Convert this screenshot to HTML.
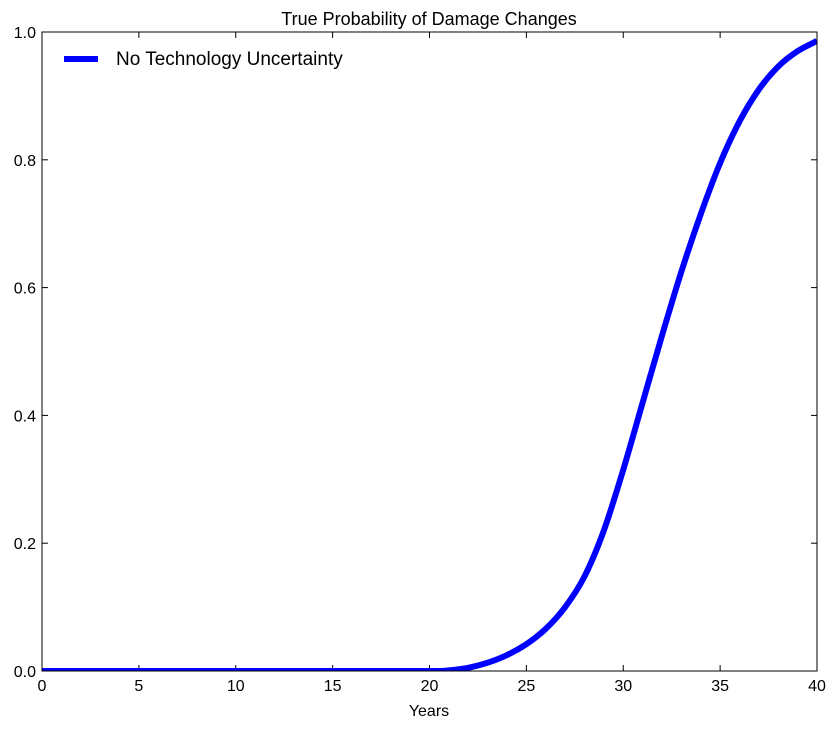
<!DOCTYPE html>
<html><head><meta charset="utf-8"><style>
body{margin:0;background:#fff;}
svg text{font-family:"Liberation Sans",sans-serif;}
</style></head><body>
<svg id="chart" width="837" height="730">
<text x="429" y="25" font-size="18" text-anchor="middle">True Probability of Damage Changes</text>
<g id="ticks"></g>
<clipPath id="clip"><rect x="42" y="32" width="775" height="639"/></clipPath>
<path id="line" fill="none" stroke="#0000ff" stroke-width="6" clip-path="url(#clip)"/>
<rect x="42" y="32" width="775" height="639" fill="none" stroke="#000" stroke-width="1"/>
<text x="429" y="716" font-size="16" text-anchor="middle">Years</text>
<g>
<line x1="64" y1="59" x2="98" y2="59" stroke="#0000ff" stroke-width="6"/>
<text x="116" y="65" font-size="19">No Technology Uncertainty</text>
</g>
</svg>
<script>
const years=[0,5,10,15,20,21,22,23,24,25,26,27,28,29,30,31,32,33,34,35,36,37,38,39,40];
const probs=[0,0,0,0,0,0.001,0.005,0.013,0.025,0.042,0.066,0.1,0.148,0.22,0.315,0.42,0.525,0.625,0.715,0.795,0.86,0.91,0.946,0.97,0.986];
const xTicks=[0,5,10,15,20,25,30,35,40];
const yTicks=[0,0.2,0.4,0.6,0.8,1.0];
const X0=42,X1=817,Y0=671,Y1=32;
const sx=v=>X0+(v-0)/40*(X1-X0);
const sy=v=>Y0-v*(Y0-Y1);
const ns="http://www.w3.org/2000/svg";
const g=document.getElementById('ticks');
function mk(t,a){const e=document.createElementNS(ns,t);for(const k in a)e.setAttribute(k,a[k]);return e;}
xTicks.forEach(t=>{
 const x=sx(t);
 const l1=mk('line',{x1:x,x2:x,y1:Y0,y2:Y0-6,stroke:'#000'});
 
 
 g.appendChild(l1);
 const l2=mk('line',{x1:x,x2:x,y1:Y1,y2:Y1+6,stroke:'#000'});
 
 
 g.appendChild(l2);
 const tx=mk('text',{x:x,y:Y0+20,'font-size':16,'text-anchor':'middle'});
 tx.textContent=t;
 
 
 g.appendChild(tx);
});
yTicks.forEach(t=>{
 const y=sy(t);
 const l1=mk('line',{x1:X0,x2:X0+6,y1:y,y2:y,stroke:'#000'});
 
 
 g.appendChild(l1);
 const l2=mk('line',{x1:X1,x2:X1-6,y1:y,y2:y,stroke:'#000'});
 
 
 g.appendChild(l2);
 const tx=mk('text',{x:X0-6,y:y+6,'font-size':16,'text-anchor':'end'});
 tx.textContent=t.toFixed(1);
 
 
 g.appendChild(tx);
});
const pts=years.map((v,i)=>[sx(v),sy(probs[i])]);
let d='M'+pts[0][0]+','+pts[0][1];
for(let i=0;i<pts.length-1;i++){
 const p0=pts[Math.max(0,i-1)],p1=pts[i],p2=pts[i+1],p3=pts[Math.min(pts.length-1,i+2)];
 const c1=[p1[0]+(p2[0]-p0[0])/6,p1[1]+(p2[1]-p0[1])/6];
 const c2=[p2[0]-(p3[0]-p1[0])/6,p2[1]-(p3[1]-p1[1])/6];
 d+=` C${c1[0]},${c1[1]} ${c2[0]},${c2[1]} ${p2[0]},${p2[1]}`;
}
document.getElementById('line').setAttribute('d',d);
</script>
</body></html>
